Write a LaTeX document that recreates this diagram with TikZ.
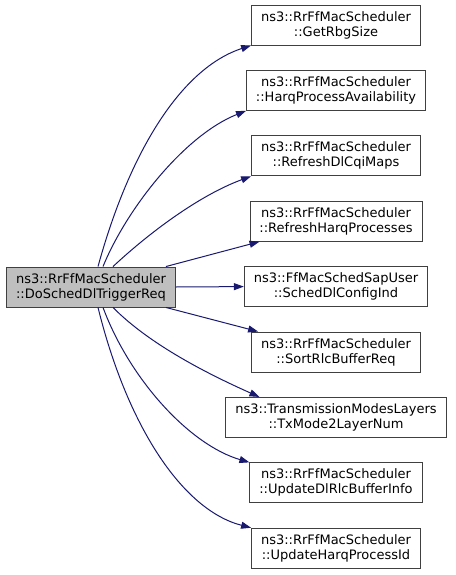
\documentclass[tikz,border=0pt]{standalone}
\usepackage{fontspec}
\setmainfont{DejaVu Sans}
\usepackage{xcolor}
\definecolor{edgeblue}{RGB}{25,25,112}
\definecolor{boxgray}{RGB}{64,64,64}
\definecolor{srcfill}{RGB}{191,191,191}
\usepackage{tikz}
\usetikzlibrary{positioning, arrows.meta}

\begin{document}
\begin{tikzpicture}[x=1pt, y=-1pt,
    fn/.style={rectangle, draw=boxgray, fill=white, line width=0.9pt,
               minimum height=40pt, inner xsep=9.5pt, inner ysep=0pt, align=center,
               font=\fontsize{13}{15}\selectfont},
    srcfn/.style={fn, fill=srcfill},
    call/.style={-{Triangle[length=10pt, width=7pt]}, line width=1pt, edgeblue},
  ]
    \useasboundingbox (0,0) rectangle (455,575);

    % --- caller ---
    \node[srcfn] (dosched) at (91,287) {ns3::RrFfMacScheduler\\::DoSchedDlTriggerReq};

    % --- callees (one column) ---
    \node[fn]                          (rbg)   at (336,25) {ns3::RrFfMacScheduler\\::GetRbgSize};
    \node[fn, below=24.5pt of rbg]     (avail) {ns3::RrFfMacScheduler\\::HarqProcessAvailability};
    \node[fn, below=24.5pt of avail]   (cqi)   {ns3::RrFfMacScheduler\\::RefreshDlCqiMaps};
    \node[fn, below=24.5pt of cqi]     (rharq) {ns3::RrFfMacScheduler\\::RefreshHarqProcesses};
    \node[fn, below=24.5pt of rharq]   (sched) {ns3::FfMacSchedSapUser\\::SchedDlConfigInd};
    \node[fn, below=24.5pt of sched]   (sort)  {ns3::RrFfMacScheduler\\::SortRlcBufferReq};
    \node[fn, below=24.5pt of sort]    (txm)   {ns3::TransmissionModesLayers\\::TxMode2LayerNum};
    \node[fn, below=24.5pt of txm]     (updl)  {ns3::RrFfMacScheduler\\::UpdateDlRlcBufferInfo};
    \node[fn, below=24.5pt of updl]    (uphid) {ns3::RrFfMacScheduler\\::UpdateHarqProcessId};

    % --- calls going up ---
    \draw[call] ([xshift=7pt]dosched.north)  .. controls (130,150) and (182,68) .. (rbg.south west);
    \draw[call] ([xshift=12pt]dosched.north) .. controls (127,208) and (185,135) .. (avail.south west);
    \draw[call] ([xshift=22pt]dosched.north) .. controls (150,232) and (200,195) .. (cqi.south west);
    \draw[call] ([xshift=-10pt]dosched.north east) -- ([xshift=10pt]rharq.south west);

    % --- straight across ---
    \draw[call] (dosched.east) -- (sched.west);

    % --- calls going down ---
    \draw[call] ([xshift=-10pt]dosched.south east) -- ([xshift=7pt]sort.north west);
    \draw[call] ([xshift=22pt]dosched.south)  .. controls (150,345) and (210,375) .. ([xshift=34pt]txm.north west);
    \draw[call] ([xshift=12pt]dosched.south)  .. controls (130,380) and (190,445) .. (updl.north west);
    \draw[call] ([xshift=7pt]dosched.south)   .. controls (127,425) and (182,510) .. (uphid.north west);
  \end{tikzpicture}
\end{document}
